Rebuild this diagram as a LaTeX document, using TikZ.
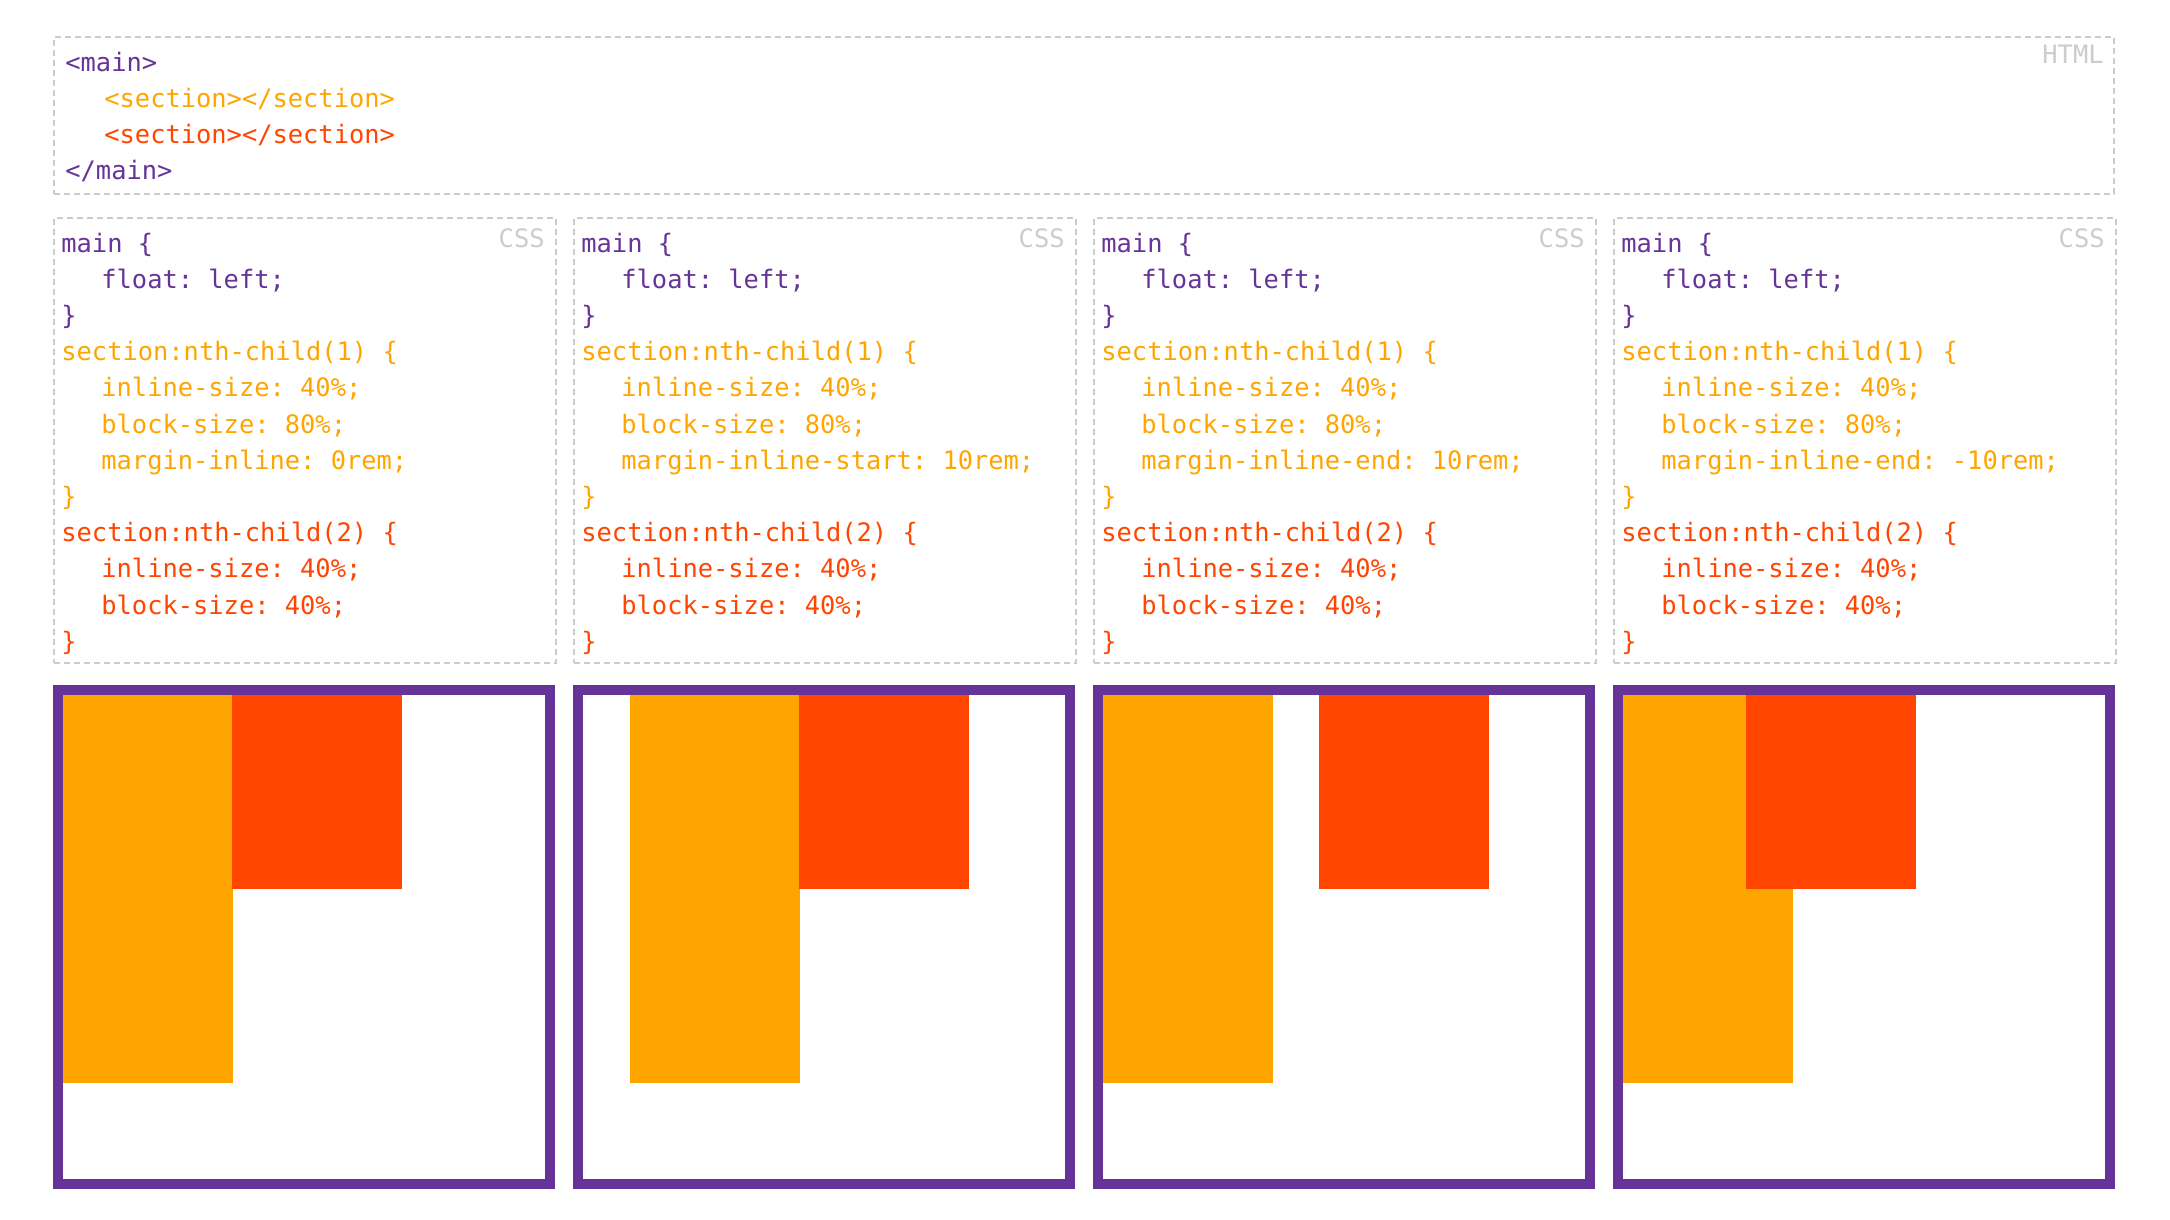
\documentclass[tikz,border=0pt]{standalone}
\usepackage{fontspec}
\setmonofont{DejaVu Sans Mono}
\usetikzlibrary{positioning}
\definecolor{cmain}{HTML}{663399}
\definecolor{csecuno}{HTML}{FFA500}
\definecolor{csecdue}{HTML}{FF4500}
\definecolor{cbordo}{HTML}{CCCCCC}
\tikzset{
  % riquadro tratteggiato del codice
  codepanel/.style={draw=cbordo, line width=1pt, dash pattern=on 3pt off 2pt,
    anchor=north west, inner sep=0pt},
  % righe di codice
  code/.style={font=\ttfamily\fontsize{12.7}{18}\selectfont, anchor=base west,
    inner sep=0pt},
  % etichetta del linguaggio
  tag/.style={code, anchor=base east, text=cbordo},
  % contenitore main
  mainbox/.style={draw=cmain, line width=5pt, anchor=north west, inner sep=0pt,
    minimum width=246pt, minimum height=247pt},
  % le due section
  secuno/.style={fill=csecuno, anchor=north west, inner sep=0pt, outer sep=0pt,
    minimum width=85pt, minimum height=194pt},
  secdue/.style={fill=csecdue, anchor=north west, inner sep=0pt, outer sep=0pt,
    minimum width=85pt, minimum height=97pt},
}

\begin{document}
\begin{tikzpicture}[x=0.5pt, y=-0.5pt]
  \path[use as bounding box, fill=white] (0,0) rectangle (2170,1220);
  % html
  \node[codepanel, minimum width=1030pt, minimum height=78.5pt] (html) at (53,36) {};
  \node[tag] (taghtml) at ([shift={(-11,28)}]html.north east) {HTML};
  \node[code, text=cmain] (h1) at ([shift={(12,36)}]html.north west) {<main>};
  \node[code, text=csecuno] (h2) at ([shift={(51,72)}]html.north west) {<section></section>};
  \node[code, text=csecdue] (h3) at ([shift={(51,108)}]html.north west) {<section></section>};
  \node[code, text=cmain] (h4) at ([shift={(12,144)}]html.north west) {</main>};
  % css e risultato
  \foreach \i/\mrg/\ou/\od in {1/{margin-inline: 0rem;}/0/169, 2/{margin-inline-start: 10rem;}/47/216, 3/{margin-inline-end: 10rem;}/0/216, 4/{margin-inline-end: -10rem;}/0/123} {
    \node[codepanel, minimum width=251pt, minimum height=222.5pt] (css\i) at ({53+520*(\i-1)},217) {};
    \node[tag] (tagcss\i) at ([shift={(-12,31)}]css\i.north east) {CSS};
    \foreach \k/\ind/\col/\txt in {0/0/cmain/{main \{}, 1/40/cmain/{float: left;}, 2/0/cmain/{\}}, 3/0/csecuno/{section:nth-child(1) \{}, 4/40/csecuno/{inline-size: 40\%;}, 5/40/csecuno/{block-size: 80\%;}, 6/40/csecuno/{\mrg}, 7/0/csecuno/{\}}, 8/0/csecdue/{section:nth-child(2) \{}, 9/40/csecdue/{inline-size: 40\%;}, 10/40/csecdue/{block-size: 40\%;}, 11/0/csecdue/{\}}}
      \node[code, text=\col] (r\i-\k) at ([shift={(8+\ind,35+36.2*\k)}]css\i.north west) {\txt};
    \node[mainbox] (main\i) at ({53+520*(\i-1)},685) {};
    \node[secuno] (sa\i) at ([shift={(10+\ou,10)}]main\i.north west) {};
    \node[secdue] (sb\i) at ([shift={(10+\od,10)}]main\i.north west) {};
  }
\end{tikzpicture}
\end{document}
